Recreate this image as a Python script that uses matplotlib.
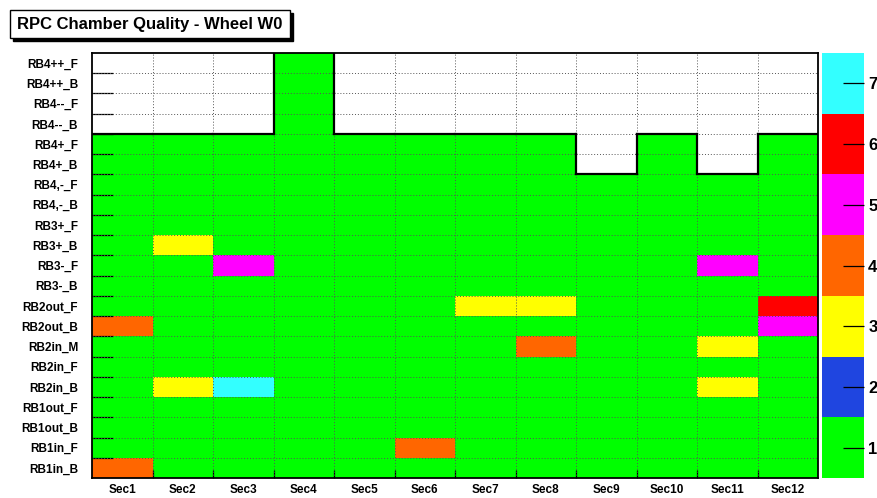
import numpy as np
import matplotlib
matplotlib.use("Agg")
import matplotlib.pyplot as plt
from matplotlib.colors import ListedColormap, BoundaryNorm
from matplotlib.patches import Rectangle

plt.rcParams['font.family'] = ['Liberation Sans Narrow', 'Liberation Sans', 'DejaVu Sans']

# sectores y camaras (de arriba hacia abajo)
sectores = [f"Sec{i}" for i in range(1, 13)]
camaras = ["RB4++_F", "RB4++_B", "RB4--_F", "RB4--_B",
           "RB4+_F", "RB4+_B", "RB4,-_F", "RB4,-_B",
           "RB3+_F", "RB3+_B", "RB3-_F", "RB3-_B",
           "RB2out_F", "RB2out_B", "RB2in_M", "RB2in_F", "RB2in_B",
           "RB1out_F", "RB1out_B", "RB1in_F", "RB1in_B"]

N = None
calidad = [
    [N, N, N, 1, N, N, N, N, N, N, N, N],  # RB4++_F
    [N, N, N, 1, N, N, N, N, N, N, N, N],  # RB4++_B
    [N, N, N, 1, N, N, N, N, N, N, N, N],  # RB4--_F
    [N, N, N, 1, N, N, N, N, N, N, N, N],  # RB4--_B
    [1, 1, 1, 1, 1, 1, 1, 1, N, 1, N, 1],  # RB4+_F
    [1, 1, 1, 1, 1, 1, 1, 1, N, 1, N, 1],  # RB4+_B
    [1, 1, 1, 1, 1, 1, 1, 1, 1, 1, 1, 1],  # RB4,-_F
    [1, 1, 1, 1, 1, 1, 1, 1, 1, 1, 1, 1],  # RB4,-_B
    [1, 1, 1, 1, 1, 1, 1, 1, 1, 1, 1, 1],  # RB3+_F
    [1, 3, 1, 1, 1, 1, 1, 1, 1, 1, 1, 1],  # RB3+_B
    [1, 1, 5, 1, 1, 1, 1, 1, 1, 1, 5, 1],  # RB3-_F
    [1, 1, 1, 1, 1, 1, 1, 1, 1, 1, 1, 1],  # RB3-_B
    [1, 1, 1, 1, 1, 1, 3, 3, 1, 1, 1, 6],  # RB2out_F
    [4, 1, 1, 1, 1, 1, 1, 1, 1, 1, 1, 5],  # RB2out_B
    [1, 1, 1, 1, 1, 1, 1, 4, 1, 1, 3, 1],  # RB2in_M
    [1, 1, 1, 1, 1, 1, 1, 1, 1, 1, 1, 1],  # RB2in_F
    [1, 3, 7, 1, 1, 1, 1, 1, 1, 1, 3, 1],  # RB2in_B
    [1, 1, 1, 1, 1, 1, 1, 1, 1, 1, 1, 1],  # RB1out_F
    [1, 1, 1, 1, 1, 1, 1, 1, 1, 1, 1, 1],  # RB1out_B
    [1, 1, 1, 1, 1, 4, 1, 1, 1, 1, 1, 1],  # RB1in_F
    [4, 1, 1, 1, 1, 1, 1, 1, 1, 1, 1, 1],  # RB1in_B
]
niveles = [1, 2, 3, 4, 5, 6, 7]
colores = ["#00ff00", "#1f45e0", "#ffff00", "#ff6600", "#ff00ff", "#ff0000", "#33ffff"]

# matriz con filas de abajo hacia arriba
z = np.array([[np.nan if v is None else v for v in fila] for fila in calidad[::-1]], dtype=float)
nfil, ncol = z.shape
cmap = ListedColormap(colores)
norm = BoundaryNorm(np.arange(0.5, 8.5, 1), cmap.N)

W, H = 877, 498
fig = plt.figure(figsize=(W / 100, H / 100), dpi=100)
ax = fig.add_axes([92 / W, 1 - 478 / H, 726 / W, 425 / H])

ax.pcolormesh(np.arange(ncol + 1), np.arange(nfil + 1), np.ma.masked_invalid(z),
              cmap=cmap, norm=norm)
ax.set_xlim(0, ncol)
ax.set_ylim(0, nfil)

# rejilla punteada
for x in range(1, ncol):
    ax.axvline(x, color="#555555", ls=(0, (1, 2)), lw=0.7)
for y in range(1, nfil):
    ax.axhline(y, color="#555555", ls=(0, (1, 2)), lw=0.7)

# contorno negro de las celdas sin datos
vacio = np.isnan(z)
for i in range(nfil):
    for j in range(ncol):
        if not vacio[i, j]:
            continue
        if i > 0 and not vacio[i - 1, j]:
            ax.plot([j, j + 1], [i, i], color="black", lw=1.6)
        if j > 0 and not vacio[i, j - 1]:
            ax.plot([j, j], [i, i + 1], color="black", lw=1.6)
        if j < ncol - 1 and not vacio[i, j + 1]:
            ax.plot([j + 1, j + 1], [i, i + 1], color="black", lw=1.6)

for s in ax.spines.values():
    s.set_linewidth(1.3)

ax.set_xticks(np.arange(ncol) + 0.5)
ax.set_xticklabels(sectores, fontsize=8.5, fontweight="bold")
ax.set_yticks(np.arange(nfil) + 0.5)
ax.set_yticklabels(camaras[::-1], fontsize=8.5, fontweight="bold")
ax.set_xticks(np.arange(1, ncol), minor=True)
ax.set_yticks(np.arange(1, nfil), minor=True)
ax.tick_params(axis="x", which="major", length=0, pad=4)
ax.tick_params(axis="y", which="major", length=0, pad=10)
ax.tick_params(axis="y", which="minor", direction="in", length=15, width=0.9)
ax.tick_params(axis="x", which="minor", direction="in", length=6, width=0.9)

# escala de colores
cax = fig.add_axes([822 / W, 1 - 478 / H, 42 / W, 425 / H])
for k, (nv, c) in enumerate(zip(niveles, colores)):
    cax.add_patch(Rectangle((0, nv - 0.5), 1, 1, facecolor=c, edgecolor="none"))
cax.set_xlim(0, 1)
cax.set_ylim(0.5, 7.5)
cax.set_xticks([])
cax.yaxis.tick_right()
cax.set_yticks(niveles)
cax.set_yticklabels([str(n) for n in niveles], fontsize=12, fontweight="bold")
cax.tick_params(axis="y", direction="in", length=15, width=0.9, pad=3)
for s in cax.spines.values():
    s.set_visible(False)

# titulo con caja y sombra
fig.patches.append(Rectangle((13 / W, 1 - 41 / H), 280 / W, 28 / H, transform=fig.transFigure,
                             facecolor="black", edgecolor="black"))
fig.patches.append(Rectangle((10 / W, 1 - 38 / H), 280 / W, 28 / H, transform=fig.transFigure,
                             facecolor="white", edgecolor="black", lw=1))
fig.text(150 / W, 1 - 24 / H, "RPC Chamber Quality - Wheel W0", ha="center", va="center",
         fontsize=12, fontweight="bold")

fig.savefig("out.png", dpi=100)
